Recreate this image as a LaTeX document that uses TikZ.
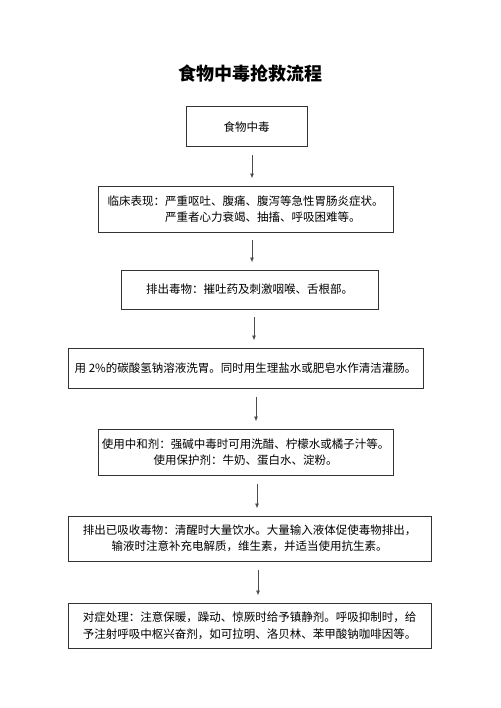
\documentclass[tikz,border=0pt]{standalone}
\usepackage{fontspec}
\newfontfamily\cjk{Noto Sans CJK SC}
\usetikzlibrary{arrows.meta}
\tikzset{
  flowbox/.style = {draw = black!80, line width = .35mm, inner sep = 0pt, align = center,
    font = \cjk\fontsize{11.5}{16.5}\selectfont},
  flowarrow/.style = {draw = black!70, line width = .3mm, -{Latex[length=5pt, width=4pt]},
    shorten <= 8pt, shorten >= 7pt}
}

\begin{document}
\begin{tikzpicture}[x = 1pt, y = -1pt]
        \useasboundingbox[fill = white] (0, 0) rectangle (500, 708);
        \node[font = \cjk\bfseries\fontsize{18}{20}\selectfont] (title) at (250, 74) {食物中毒抢救流程};
        \node[flowbox, minimum width = 121pt, minimum height = 40pt] (poison) at (246.5, 127) {食物中毒};
        \node[flowbox, minimum width = 295pt, minimum height = 46pt, align = left] (symptom) at (245.5, 209)
          {临床表现：严重呕吐、腹痛、腹泻等急性胃肠炎症状。\\\hspace*{5em}严重者心力衰竭、抽搐、呼吸困难等。};
        \node[flowbox, minimum width = 257pt, minimum height = 39pt] (expel) at (249.5, 289.5)
          {排出毒物：摧吐药及刺激咽喉、舌根部。};
        \node[flowbox, minimum width = 355pt, minimum height = 40pt] (lavage) at (245.5, 368)
          {用 2\%的碳酸氢钠溶液洗胃。同时用生理盐水或肥皂水作清洁灌肠。};
        \node[flowbox, minimum width = 295pt, minimum height = 46pt] (antidote) at (245.5, 452)
          {使用中和剂：强碱中毒时可用洗醋、柠檬水或橘子汁等。\\使用保护剂：牛奶、蛋白水、淀粉。};
        \node[flowbox, minimum width = 363pt, minimum height = 45pt] (absorbed) at (249.5, 538.5)
          {排出已吸收毒物：清醒时大量饮水。大量输入液体促使毒物排出，\\输液时注意补充电解质，维生素，并适当使用抗生素。};
        \node[flowbox, minimum width = 363pt, minimum height = 45pt, align = left] (relief) at (249.5, 625.5)
          {对症处理：注意保暖，躁动、惊厥时给予镇静剂。呼吸抑制时，给\\予注射呼吸中枢兴奋剂，如可拉明、洛贝林、苯甲酸钠咖啡因等。};
        \draw[flowarrow] ([xshift = 5.5pt]poison.south) -- ([xshift = 5.5pt]poison.south |- symptom.north);
        \draw[flowarrow] ([xshift = 6.5pt]symptom.south) -- ([xshift = 6.5pt]symptom.south |- expel.north);
        \draw[flowarrow] ([xshift = 4.5pt]expel.south) -- ([xshift = 4.5pt]expel.south |- lavage.north);
        \draw[flowarrow] ([xshift = 10.5pt]lavage.south) -- ([xshift = 10.5pt]lavage.south |- antidote.north);
        \draw[flowarrow] ([xshift = 11.5pt]antidote.south) -- ([xshift = 11.5pt]antidote.south |- absorbed.north);
        \draw[flowarrow] ([xshift = 8.5pt]absorbed.south) -- ([xshift = 8.5pt]absorbed.south |- relief.north);
\end{tikzpicture}
\end{document}
